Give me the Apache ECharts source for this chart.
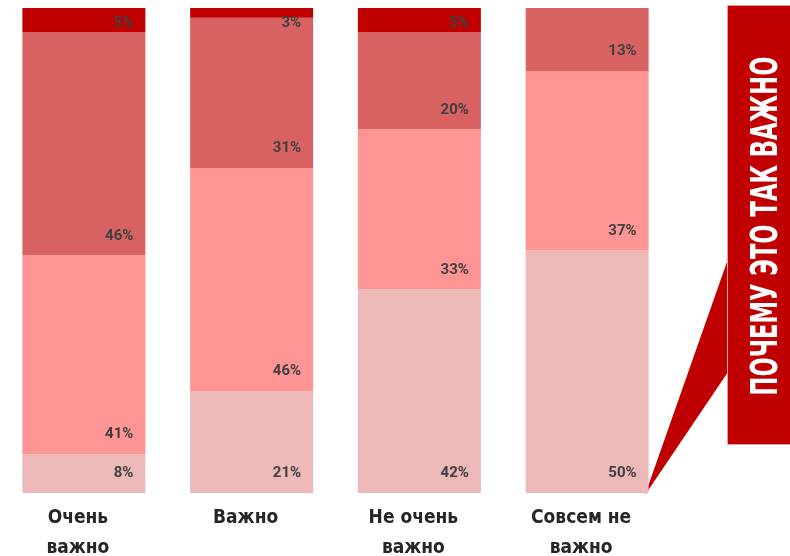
<!DOCTYPE html>
<html>
<head>
<meta charset="utf-8">
<title>Почему это так важно</title>
<script src="https://cdn.jsdelivr.net/npm/echarts@6/dist/echarts.min.js"></script>
<style>
    html, body {margin: 0; padding: 0; background: #fff;}
    #chart {width: 790px; height: 556px;}
</style>
</head>
<body>
<div id="chart"></div>
<script>
//категории
var categories = ['Очень\nважно', 'Важно', 'Не очень\nважно', 'Совсем не\nважно'];

//значения, снизу вверх
var level1 = [8, 21, 42, 50];
var level2 = [41, 46, 33, 37];
var level3 = [46, 31, 20, 13];
var level4 = [5, 3, 5, 0];

var colors = ['#ECB8B8', '#FF9494', '#D86262', '#C00000'];

var narrow = '"DejaVu Sans Condensed", "Liberation Sans Narrow", sans-serif';

window.onload = function () {
    var myChart = echarts.init(document.getElementById('chart'));
    myChart.setOption(option());
};

//один слой столбика
function layer(data, color, pos, offset) {
    return {
        type: 'bar',
        stack: 'all',
        barWidth: 123,
        data: data,
        itemStyle: {color: color},
        label: {
            show: true,
            position: pos || 'insideBottomRight',
            distance: 12,
            offset: offset || [0, 0],
            color: '#404040',
            fontFamily: 'Roboto',
            fontWeight: 'bold',
            fontSize: 15,
            formatter: function (p) {
                return p.value ? p.value + '%' : '';
            }
        }
    };
}

function option() {
    return {
        backgroundColor: '#fff',
        animation: false,
        grid: {left: 0, width: 671, top: 8, bottom: 63, outerBoundsMode: 'none', containLabel: false},
        xAxis: {
            type: 'category',
            data: categories,
            axisLine: {show: false},
            axisTick: {show: false},
            axisLabel: {
                margin: 10,
                color: '#262626',
                fontFamily: narrow,
                fontWeight: 'bold',
                fontSize: 19,
                lineHeight: 30,
                padding: [0, 12, 0, 0]
            }
        },
        yAxis: {
            type: 'value',
            min: 0,
            max: 100,
            show: false,
            splitLine: {show: false}
        },
        series: [
            layer(level1, colors[0]),
            layer(level2, colors[1]),
            layer(level3, colors[2]),
            layer(level4, colors[3], 'insideTopRight', [0, -4])
        ],
        //выноска справа
        graphic: [
            {
                type: 'polygon',
                shape: {points: [[728, 259], [645, 495], [728, 372]]},
                style: {fill: '#C00000'}
            },
            {
                type: 'rect',
                shape: {x: 727.5, y: 5.5, width: 70, height: 439},
                style: {fill: '#C00000', stroke: '#E6A0A0', lineWidth: 1}
            },
            {
                type: 'text',
                x: 767,
                y: 226,
                rotation: Math.PI / 2,
                scaleX: 0.68,
                style: {
                    text: 'ПОЧЕМУ ЭТО ТАК ВАЖНО',
                    fill: '#fff',
                    fontFamily: narrow,
                    fontWeight: 'bold',
                    fontSize: 37,
                    align: 'center',
                    verticalAlign: 'middle'
                }
            }
        ]
    };
}
</script>
</body>
</html>
